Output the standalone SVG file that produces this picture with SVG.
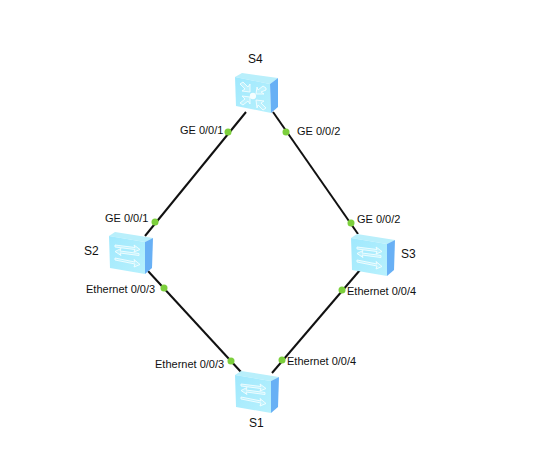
<svg xmlns="http://www.w3.org/2000/svg" width="537" height="466" viewBox="0 0 537 466">
<style>
text{font-family:"Liberation Sans",Arial,sans-serif;font-size:11px;fill:#111}
.n{font-size:12px}
.l{stroke:#111;stroke-width:2;fill:none}
.d{fill:#7ccf3c}
.a{fill:#bdf1fd;stroke:#f4feff;stroke-width:.9;stroke-linejoin:round}
</style>
<defs>
<linearGradient id="f" x1="0" y1="0" x2="1" y2="1"><stop offset="0" stop-color="#9fe8fd"/><stop offset="1" stop-color="#b8f1fd"/></linearGradient>
<g id="sw">
<path d="M0 0L6-4L44 2L36 6Z" fill="#b9effb"/>
<path d="M0 0L36 6L36 38L1 32Z" fill="url(#f)"/>
<path d="M36 6L44 2L43 32L36 38Z" fill="#68b0f5"/>
<path class="a" d="M6 9L26 11.5L25 9L31 13.5L25 16L26 13.5L6 11Z"/>
<path class="a" d="M30 19.5L11 17L12 19.5L6 15.5L12 12.5L11 15L30 17.5Z"/>
<path class="a" d="M6 22L26 26L25 23.500L31 28.500L25 31L26 28L6 24Z"/>
</g>
</defs>
<g id="connectors">
<path class="l" d="M246 112L145 236"/>
<path class="l" d="M273 112L358 234"/>
<path class="l" d="M148 271L241 372"/>
<path class="l" d="M360 270L272 373"/>
<g class="d">
<circle cx="228" cy="132" r="3.5"/><circle cx="155" cy="222" r="3.5"/>
<circle cx="286" cy="132" r="3.5"/><circle cx="351" cy="223" r="3.5"/>
<circle cx="164" cy="288" r="3.5"/><circle cx="231" cy="361" r="3.5"/>
<circle cx="342" cy="290" r="3.5"/><circle cx="282" cy="360" r="3.5"/>
</g>
</g>
<g id="S4">
<path d="M235 77L242 73L278 78L270 84Z" fill="#b9effb"/>
<path d="M235 77L270 84L271 113L236 106Z" fill="url(#f)"/>
<path d="M270 84L278 78L278 107L271 113Z" fill="#68b0f5"/>
<circle cx="253" cy="96" r="3.2" fill="#f4feff"/>
<path class="a" d="M240 84L243 82L248 87L250 84L250 92L242 91L245 89Z"/>
<path class="a" d="M266 88L263 86L258 90L257 87L256 94L264 94L261 92L266 90Z"/>
<path class="a" d="M240 103L243 105L248 101L250 104L250 97L242 96L245 99Z"/>
<path class="a" d="M266 108L263 110L258 105L257 108L256 100L264 101L261 103Z"/>
<text class="n" x="248" y="63">S4</text>
</g>
<g id="S2"><use href="#sw" x="109" y="236"/><text class="n" x="84" y="255">S2</text></g>
<g id="S3"><use href="#sw" x="351" y="238"/><text class="n" x="401" y="258">S3</text></g>
<g id="S1"><use href="#sw" x="235" y="375"/><text class="n" x="249" y="427">S1</text></g>
<g id="labels">
<text x="180" y="134">GE 0/0/1</text>
<text x="297" y="135">GE 0/0/2</text>
<text x="105" y="222">GE 0/0/1</text>
<text x="357" y="223">GE 0/0/2</text>
<text x="86" y="293">Ethernet 0/0/3</text>
<text x="347" y="295">Ethernet 0/0/4</text>
<text x="155" y="368">Ethernet 0/0/3</text>
<text x="287" y="365">Ethernet 0/0/4</text>
</g>
</svg>
